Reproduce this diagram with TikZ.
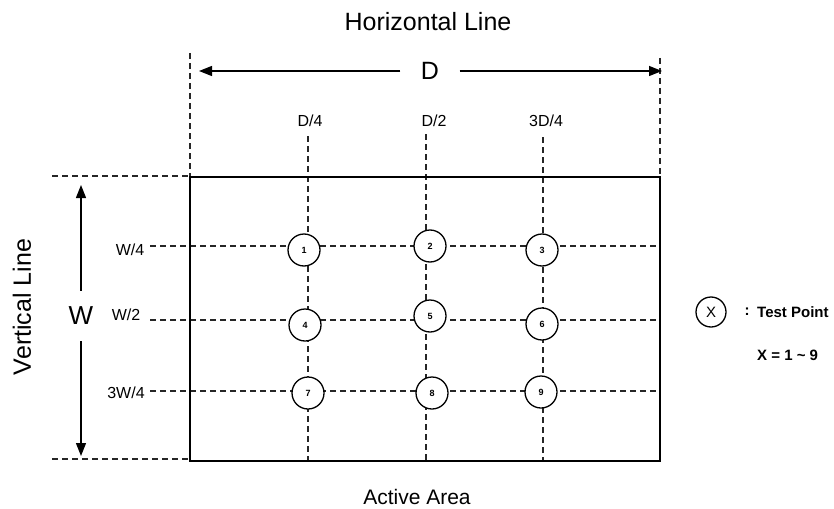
\documentclass[tikz,border=0pt]{standalone}
\usepackage{fontspec}
\setmainfont{Liberation Sans}
\usetikzlibrary{arrows.meta}

\begin{document}
\begin{tikzpicture}[x=1pt,y=-1pt]
	% --- marco de la figura ---
	\useasboundingbox (0,0) rectangle (834,508);
	
	% estilos
	\tikzset{
		guide/.style  = {dash pattern=on 6pt off 4pt, line width=1.4pt, black!85},
		border/.style = {line width=2.8pt, black},
		dimline/.style = {line width=1.4pt, -{Triangle[length=13pt,width=10pt]}},
		tpoint/.style = {circle, draw, line width=1.3pt, fill=white, minimum size=32pt,
			inner sep=0pt, font=\bfseries\fontsize{9}{10}\selectfont},
		lbl/.style    = {font=\fontsize{16}{18}\selectfont},
		title/.style  = {font=\fontsize{25}{30}\selectfont},
	}
	
	% --- area activa ---
	\coordinate (tl) at (190,177);
	\coordinate (br) at (660,461);
	
	% --- cotas: D arriba ---
	\coordinate (extL) at (190,53);
	\coordinate (extR) at (660,58);
	\draw[guide] (extL) -- (tl);
	\draw[guide] (extR) -- (tl -| br);
	\coordinate (dL) at (199,71);
	\coordinate (dR) at (662,71);
	\node[title, minimum width=59pt, inner sep=0pt] (Dlbl) at (430,71) {D};
	\draw[dimline] (Dlbl.west) -- (dL);
	\draw[dimline] (Dlbl.east) -- (dR);
	
	% --- cotas: W a la izquierda ---
	\coordinate (extT) at (52,176);
	\coordinate (extB) at (52,459);
	\draw[guide] (extT) -- (190,176);
	\draw[guide] (extB) -- (190,459);
	\coordinate (wT) at (81,185);
	\coordinate (wB) at (81,456);
	\node[title, font=\fontsize{26}{30}\selectfont, minimum height=50pt, inner sep=0pt] (Wlbl) at (81,316) {W};
	\draw[dimline] (Wlbl.north) -- (wT);
	\draw[dimline] (Wlbl.south) -- (wB);
	
	% --- lineas guia verticales (x / inicio / etiqueta) ---
	\foreach \xx/\yy/\xl/\txt [count=\i] in {308/136/310/{D/4}, 426/134/434/{D/2}, 543/137/546/{3D/4}} {
		\node[lbl] (col\i) at (\xl,121) {\txt};
		\coordinate (vt\i) at (\xx,\yy);
		\coordinate (vb\i) at (\xx,461);
		\draw[guide] (vt\i) -- (vb\i);
	}
	
	% --- lineas guia horizontales ---
	\foreach \yy/\ly/\xl/\txt [count=\i] in {246/250/130/{W/4}, 320/315/126/{W/2}, 391/393/126/{3W/4}} {
		\node[lbl] (row\i) at (\xl,\ly) {\txt};
		\coordinate (hl\i) at (150,\yy);
		\coordinate (hr\i) at (660,\yy);
		\draw[guide] (hl\i) -- (hr\i);
	}
	
	% borde
	\draw[border] (tl) rectangle (br);
	
	% --- puntos de prueba ---
	\foreach \n/\px/\py in {1/304/250, 2/430/246, 3/542/250,
		4/305/325, 5/430/316, 6/542/324,
		7/308/393, 8/432/393, 9/541/392} {
		\node[tpoint] (p\n) at (\px,\py) {\n};
	}
	
	% --- leyenda ---
	\node[tpoint, minimum size=30pt, font=\fontsize{15}{18}\selectfont] (key) at (711,312) {X};
	\node[font=\bfseries\fontsize{15}{18}\selectfont] (colon) at (747,312) {:};
	\node[anchor=west, inner sep=0pt, font=\bfseries\fontsize{15}{18}\selectfont] (keytxt) at (757,312) {Test Point};
	\node[anchor=west, inner sep=0pt, font=\bfseries\fontsize{15}{18}\selectfont] (keyrange) at (757,355) {X = 1 \textasciitilde{} 9};
	
	% titulos
	\node[title] (htitle) at (428,22) {Horizontal Line};
	\node[title, rotate=90] (vtitle) at (22,307) {Vertical Line};
	\node[title, font=\fontsize{21}{24}\selectfont] (atitle) at (417,497) {Active Area};
	
\end{tikzpicture}
\end{document}
